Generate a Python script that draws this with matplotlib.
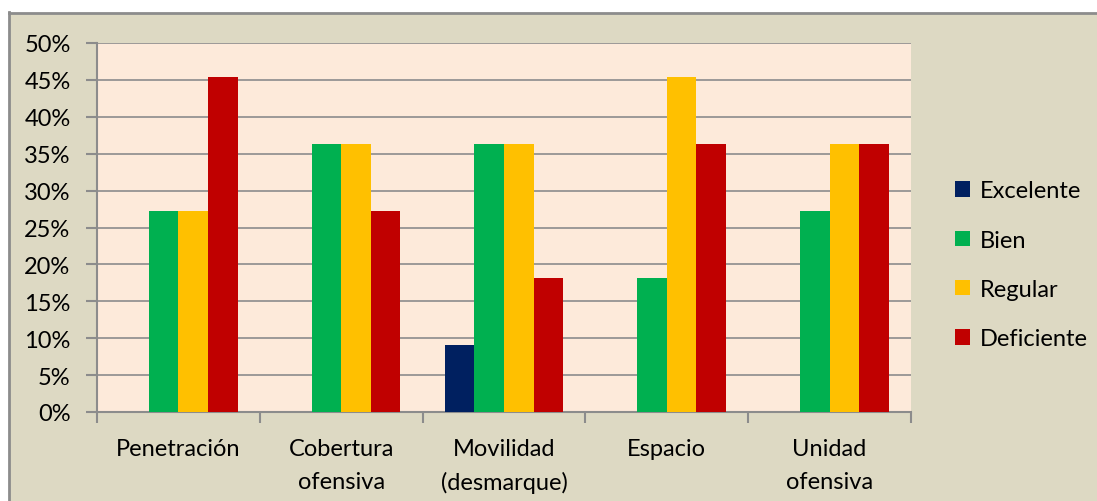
import matplotlib
matplotlib.use("Agg")
import matplotlib.pyplot as plt
import numpy as np
from matplotlib.patches import Rectangle
from matplotlib.lines import Line2D
from matplotlib.ticker import FixedLocator, NullFormatter

categories = ["Penetración", "Cobertura\nofensiva", "Movilidad\n(desmarque)", "Espacio", "Unidad\nofensiva"]
series_names = ["Excelente", "Bien", "Regular", "Deficiente"]
excelente = [0.0, 0.0, 9.09, 0.0, 0.0]
bien = [27.27, 36.36, 36.36, 18.18, 27.27]
regular = [27.27, 36.36, 36.36, 45.45, 36.36]
deficiente = [45.45, 27.27, 18.18, 36.36, 36.36]
colors = ["#002060", "#00B050", "#FFC000", "#C00000"]
yticks = [0, 5, 10, 15, 20, 25, 30, 35, 40, 45, 50]

plt.rcParams['font.family'] = ['Lato', 'DejaVu Sans']
FS = 17

W, H = 1097, 502
fig = plt.figure(figsize=(W / 100, H / 100), dpi=100)
fig.patch.set_facecolor("white")

# beige chart area and border
fig.patches.append(Rectangle((9 / W, 0), 1 - 9 / W, (H - 14) / H, transform=fig.transFigure,
                             facecolor="#DDD9C3", edgecolor="none", zorder=-10))
fig.lines.append(Line2D([8.5 / W, 8.5 / W], [0, (H - 13) / H], transform=fig.transFigure,
                        color="#8C8C8C", lw=2, zorder=-9))
fig.lines.append(Line2D([8.5 / W, 1], [(H - 13.5) / H, (H - 13.5) / H], transform=fig.transFigure,
                        color="#8C8C8C", lw=2, zorder=-9))

left, right, top, bottom = 97, 911, 44, 413
ax = fig.add_axes([left / W, (H - bottom) / H, (right - left) / W, (bottom - top) / H])
ax.set_zorder(5)
ax.set_facecolor("#FDEADA")

data = [excelente, bien, regular, deficiente]
n = len(series_names)
bw = 1 / (n + 1.5)
x = np.arange(len(categories))
for i, (vals, name, c) in enumerate(zip(data, series_names, colors)):
    offs = (i - (n - 1) / 2) * bw
    ax.bar(x + offs, vals, width=bw, color=c, label=name, zorder=3, linewidth=0)

ax.set_xlim(-0.5, len(categories) - 0.5)
ax.set_ylim(0, 50)
ax.set_yticks(yticks)
ax.set_yticklabels([f"{v}%" for v in yticks])
ax.yaxis.grid(True, color="#8C8C8C", lw=1.2, zorder=0)
ax.set_axisbelow(True)

ax.xaxis.set_major_locator(FixedLocator(np.arange(len(categories) + 1) - 0.5))
ax.xaxis.set_major_formatter(NullFormatter())
ax.xaxis.set_minor_locator(FixedLocator(x))
ax.set_xticklabels(categories, minor=True)
ax.tick_params(axis="x", which="minor", length=0, pad=18.5, labelsize=FS)
ax.tick_params(axis="x", which="major", length=8, width=1.5, color="#8C8C8C")
ax.tick_params(axis="y", length=8, width=1.5, color="#8C8C8C", pad=11, labelsize=FS)
for lab in ax.get_xticklabels(minor=True):
    lab.set_linespacing(1.7)

for s in ["top", "right"]:
    ax.spines[s].set_visible(False)
for s in ["left", "bottom"]:
    ax.spines[s].set_color("#8C8C8C")
    ax.spines[s].set_linewidth(1.5)

leg = fig.legend(loc="upper left", bbox_to_anchor=(946 / W, (H - 172) / H), frameon=False,
                 fontsize=FS, handlelength=0.62, handleheight=0.62, handletextpad=0.4,
                 labelspacing=1.2, borderaxespad=0)
leg.set_zorder(6)

fig.savefig("out.png", dpi=100, facecolor=fig.get_facecolor())
